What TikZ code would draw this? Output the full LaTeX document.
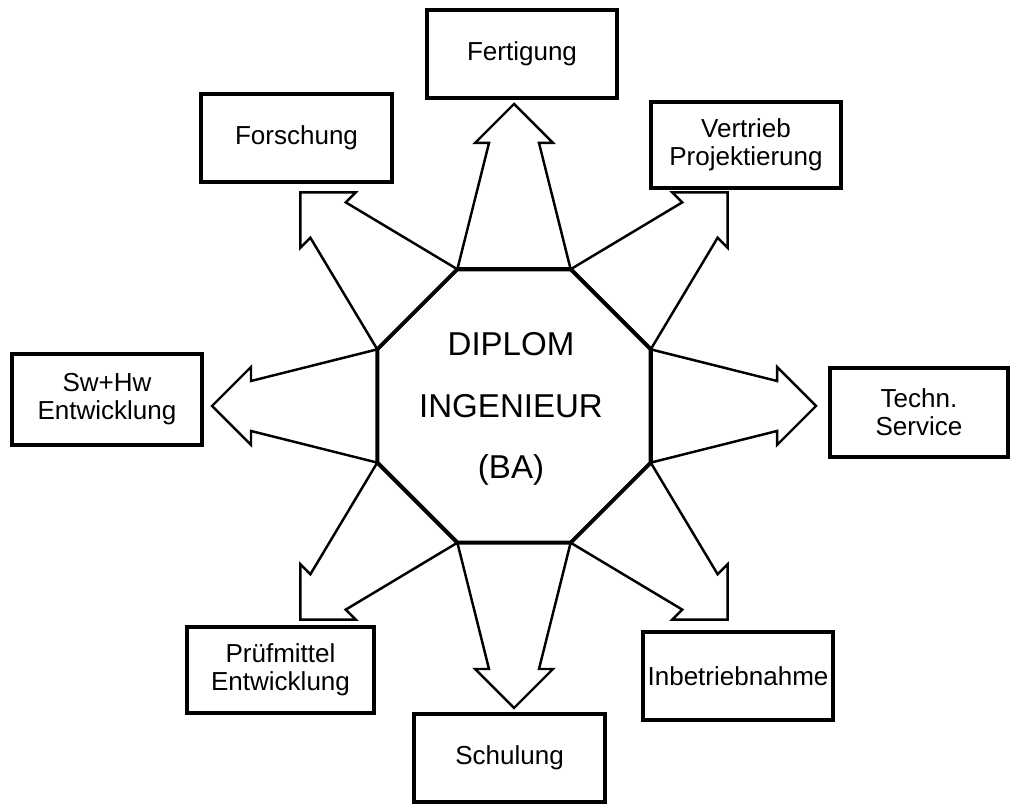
\documentclass[tikz,border=0pt]{standalone}
\usepackage{fontspec}
\setmainfont{Liberation Sans}
\usetikzlibrary{calc}
\begin{document}
\begin{tikzpicture}[x=0.01cm,y=0.01cm,
  box/.style={draw, line width=1.15pt, minimum width=1.9cm, minimum height=0.88cm,
    inner sep=0pt, align=center, font=\fontsize{7.4}{8}\selectfont},
  blockarrow/.style={draw, line width=0.7pt, line join=miter},
  octa/.style={draw, line width=1.15pt, line join=miter},
  title/.style={align=center, inner sep=0pt, font=\fontsize{9.4}{17.4}\selectfont}]
\useasboundingbox (0,0) rectangle (1010,804);

% centre of the octagon and its eight corners
\coordinate (C) at (514,398);
\foreach \k in {0,...,7}
  \coordinate (v\k) at ($(C)+({22.5+45*\k}:148)$);

% eight block arrows, each standing on one edge of the octagon
\foreach \a/\i/\j in {0/7/0, 45/0/1, 90/1/2, 135/2/3, 180/3/4, 225/4/5, 270/5/6, 315/6/7}{
  \begin{scope}[shift={(C)}, rotate=\a]
    \draw[blockarrow] (v\i) -- (263,-25) -- (263,-39) -- (302,0)
      -- (263,39) -- (263,25) -- (v\j);
  \end{scope}
}

% the octagon itself
\draw[octa] (v0) -- (v1) -- (v2) -- (v3) -- (v4) -- (v5) -- (v6) -- (v7) -- cycle;
\node[title] (dipl) at (511,395) {DIPLOM\\INGENIEUR\\(BA)};

% surrounding fields
\node[box] (fert) at (522,750) {Fertigung};
\node[box] (forsch) at (296.5,666) {Forschung};
\node[box, minimum height=0.86cm] (vertr) at (746,659) {Vertrieb\\Projektierung};
\node[box, minimum height=0.91cm] (swhw) at (107,404.5) {Sw+Hw\\Entwicklung};
\node[box, minimum width=1.78cm, minimum height=0.89cm] (techn) at (919,391.5) {Techn.\\Service};
\node[box, minimum width=1.87cm, minimum height=0.86cm] (pruef) at (280.5,134) {Prüfmittel\\Entwicklung};
\node[box] (schul) at (509.5,46) {Schulung};
\node[box] (inbetr) at (738,128) {Inbetriebnahme};
\end{tikzpicture}
\end{document}
